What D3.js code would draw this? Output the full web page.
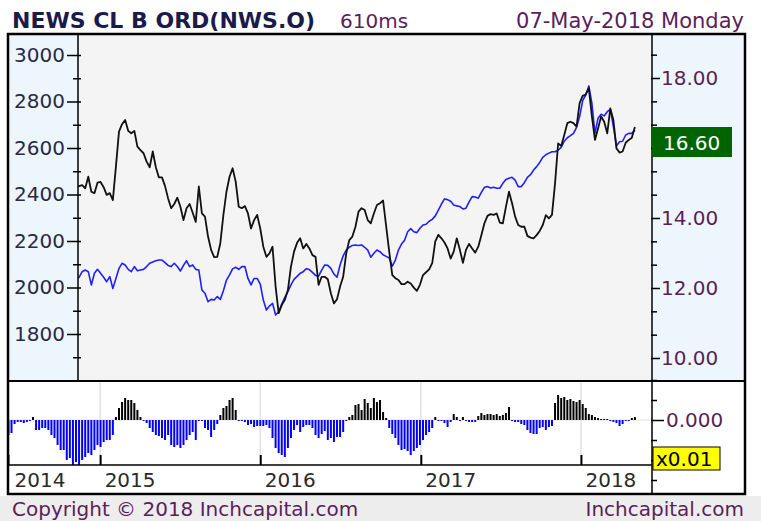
<!DOCTYPE html>
<html>
<head>
<meta charset="utf-8">
<script src="https://cdn.jsdelivr.net/npm/d3@7"></script>
<style>
  body { margin: 0; background: #fff; }
  svg { display: block; }
  text { font-family: "DejaVu Sans", Verdana, sans-serif; }
</style>
</head>
<body>
<div id="chart"></div>
<script>
// ---- data (weekly) ----
const firstWeek = new Date(2014, 5, 6);
const lineFirstWeek = 22; // lines start under the left axis panel

// oscillator histogram, one bar per week
const oscValues = [
  -15, -13, -4, -2, -2, -3, -2, -1, 3, -10, -10, -8, -8, -10, -15, -18, -25, -30, -30, -40,
  -38, -45, -42, -45, -40, -37, -33, -35, -30, -25, -27, -22, -20, -20, -15, 3, 12, 18, 22, 20,
  20, 17, 10, 3, -1, -3, -8, -12, -15, -16, -18, -20, -15,
  -25, -27, -25, -28, -25, -20, -15, -12, -20, -1, -1, -8, -10, -17, -10, -4, 5, 12, 14, 20,
  22, 10, -1, -1, -2, -5, -4, -7, -6, -6, -6, -5, -8, -18, -28, -33, -35, -37, -28, -18,
  -10, -5, -12, -7, -5, -5, -8, -15, -18, -14, -11, -20,
  -18, -22, -17, -17, -12, -1, 3, 5, 15, 16, 10, 21, 17, 12, 22, 18, 20, 8, 2, -8,
  -14, -18, -25, -30, -29, -31, -35, -31, -28, -25, -20, -15, -12, -8, 3, -1, -1, -3, -7, -2,
  6, 3, -1, 3, -1, -2, -2, -2, 4, 7, 5, 6,
  6, 5, 6, 4, 5, 7, 13, -1, -2, -2, -4, -5, -10, -13, -14, -14, -8, -7, -10, -7,
  -6, 17, 25, 22, 23, 20, 21, 19, 18, 20, 16, 12, 6, 5, 3, 2, 1, 1, 1, -1,
  -2, -3, -6, -4, -1, -1, 2, 3
];

// NWS.O close (right axis), black line
const priceValues = [
  14.90, 14.91, 14.94, 14.85, 15.18, 14.75, 14.71, 15.01, 15.03, 14.88, 14.66, 14.71, 14.51,
  15.47, 16.47, 16.68, 16.80, 16.49, 16.42, 16.49, 16.04, 15.94, 15.85, 15.61, 15.45, 15.90, 15.45, 15.16, 15.16, 14.91, 14.56, 14.28, 14.40,
  14.58, 14.32, 13.94, 14.28, 14.40, 14.15, 13.89, 14.90, 14.13, 14.04, 13.47, 13.09, 12.88, 12.89, 13.28, 14.09, 14.75, 15.18, 15.42, 15.04,
  14.32, 14.28, 14.34, 14.13, 13.70, 13.94, 14.09, 13.70, 13.18, 12.89, 12.99, 13.18, 12.04, 11.28, 11.51, 11.66, 11.94, 12.61, 13.04, 13.29,
  13.42, 13.13, 13.26, 13.13, 12.94, 12.89, 12.09, 12.32, 12.32, 12.25, 11.85, 11.56, 11.68, 12.04, 12.32, 12.99, 13.37, 13.47, 13.75, 14.18,
  14.28, 14.23, 13.94, 13.85, 14.13, 14.37, 14.42, 14.50, 13.77, 13.04, 12.37, 12.28, 12.23, 12.11, 12.11, 12.18, 12.13, 12.01, 11.92, 12.09,
  12.37, 12.45, 12.53, 12.71, 13.33, 13.52, 13.42, 13.30, 13.13, 12.84, 13.04, 13.42, 13.09, 12.72, 13.09, 13.26, 13.13, 13.01, 13.18, 13.51,
  13.85, 14.06, 14.11, 14.09, 14.13, 13.87, 13.85, 14.32, 14.75, 14.42, 14.04, 13.80, 13.75, 13.75, 13.49, 13.44, 13.42, 13.51, 13.63, 13.80,
  14.08, 13.99, 14.09, 14.99, 16.13, 16.06, 16.37, 16.71, 16.75, 16.71, 16.61, 17.28, 17.49, 17.53, 17.71, 16.90, 16.23, 16.56, 16.90, 16.75,
  16.42, 17.13, 16.80, 15.99, 15.87, 15.90, 16.15, 16.23, 16.29, 16.60
];

// comparison index (left axis), blue line
const indexValues = [
  2035, 2044, 2068, 2075, 2068, 2011, 2061, 2078, 2061, 2044, 2025, 2047, 1996,
  2039, 2082, 2104, 2097, 2078, 2068, 2090, 2072, 2075, 2078, 2090, 2104, 2110, 2115, 2118, 2118, 2107, 2095, 2090, 2104,
  2090, 2071, 2095, 2115, 2090, 2097, 2078, 2075, 1989, 1975, 1939, 1949, 1946, 1961, 1949, 1986, 2032, 2054, 2080, 2087,
  2078, 2090, 2090, 2039, 2011, 2039, 2039, 2015, 1946, 1903, 1920, 1932, 1882, 1896, 1929, 1958, 1982, 2011, 2035, 2048,
  2061, 2068, 2081, 2077, 2065, 2052, 2049, 2075, 2097, 2095, 2082, 2058, 2044, 2097, 2136, 2161, 2173, 2181, 2183, 2181,
  2183, 2173, 2161, 2130, 2147, 2161, 2154, 2141, 2134, 2127, 2092, 2118, 2161, 2187, 2203, 2240, 2253, 2240, 2236, 2255,
  2269, 2272, 2285, 2293, 2308, 2333, 2359, 2381, 2378, 2371, 2355, 2351, 2348, 2338, 2341, 2368, 2391, 2389, 2384, 2409,
  2431, 2434, 2428, 2431, 2427, 2427, 2448, 2465, 2470, 2474, 2462, 2434, 2434, 2451, 2474, 2485, 2505, 2520, 2538, 2560,
  2571, 2578, 2584, 2584, 2591, 2603, 2629, 2644, 2653, 2663, 2689, 2735, 2804, 2828, 2867, 2792, 2663, 2728, 2745, 2738,
  2756, 2766, 2692, 2609, 2627, 2629, 2656, 2663, 2663, 2677
];

const leftTicks = d3.range(1700, 3001, 100);
const leftLabels = [1800, 2000, 2200, 2400, 2600, 2800, 3000];
const rightTicks = d3.range(0, 14).map(i => 10 + i * 2 / 3);
const rightLabels = [10, 12, 14, 18]; // 16 sits under the last-price box
const oscTicks = [-60, -40, -20, 0, 20, 40];
const yearTicks = [new Date(2014, 5, 5), new Date(2015, 0, 1), new Date(2016, 0, 1), new Date(2017, 0, 1), new Date(2018, 0, 1)];
const lastPrice = 16.60;

const weekDate = i => d3.timeDay.offset(firstWeek, 7 * i);

// ---- layout ----
const w = 761;
const h = 521;
const fLeft = 8, fRight = 745, fTop = 34, fBottom = 494;
const plotL = 78, plotR = 652, upperB = 381, lowerB = 465;
const font = '"DejaVu Sans", Verdana, sans-serif';
const purple = '#5a1f5a';

const svg = d3.select('#chart').
append('svg').
attr('width', w).
attr('height', h);

const x = d3.scaleTime().
domain([new Date(2014, 5, 5), new Date(2018, 5, 12)]).
range([fLeft, plotR]);

const yIndex = d3.scaleLinear().domain([1700, 3000]).range([357.25, 55]);
const yPrice = d3.scaleLinear().domain([10, 18]).range([358, 78]);
const yOsc = d3.scaleLinear().domain([-45, 40]).range([lowerB, 380]);

// backgrounds
svg.append('rect').attr('x', 0).attr('y', 496).attr('width', w).attr('height', h - 496).attr('fill', '#ededed');
svg.append('rect').attr('x', fLeft).attr('y', fTop).attr('width', plotL - fLeft).attr('height', upperB - fTop).attr('fill', '#eef6fd');
svg.append('rect').attr('x', plotL).attr('y', fTop).attr('width', plotR - plotL).attr('height', upperB - fTop).attr('fill', '#f4f4f4');
svg.append('rect').attr('x', plotR).attr('y', fTop).attr('width', fRight - plotR).attr('height', upperB - fTop).attr('fill', '#eef6fd');
svg.append('rect').attr('x', fLeft).attr('y', upperB).attr('width', fRight - fLeft).attr('height', fBottom - upperB).attr('fill', '#fff');

// lower panel grid
svg.append('g').
selectAll('line').
data(yearTicks.slice(1)).
enter().
append('line').
attr('x1', d => x(d)).attr('x2', d => x(d)).
attr('y1', upperB).attr('y2', lowerB).
attr('stroke', '#e2e2e2').attr('stroke-width', 1.5);

svg.append('line').
attr('x1', fLeft).attr('x2', plotR).
attr('y1', yOsc(0)).attr('y2', yOsc(0)).
attr('stroke', '#e2e2e2').attr('stroke-width', 1);

// histogram
svg.append('g').
selectAll('rect').
data(oscValues).
enter().
append('rect').
attr('x', (d, i) => x(weekDate(i)) - 1).
attr('y', d => Math.min(yOsc(d), yOsc(0))).
attr('width', 2).
attr('height', d => Math.max(1, Math.abs(yOsc(d) - yOsc(0)))).
attr('fill', d => d > 0 ? '#000' : '#0000ff');

// lines
svg.append('clipPath').attr('id', 'clip').
append('rect').attr('x', plotL).attr('y', fTop).attr('width', plotR - plotL).attr('height', upperB - fTop);

const lineIndex = d3.line().
x((d, i) => x(weekDate(i + lineFirstWeek))).
y(d => yIndex(d));

const linePrice = d3.line().
x((d, i) => x(weekDate(i + lineFirstWeek))).
y(d => yPrice(d));

svg.append('path').
datum(indexValues).
attr('clip-path', 'url(#clip)').
attr('d', lineIndex).
attr('fill', 'none').
attr('stroke', '#1f1fff').
attr('stroke-width', 1.6).
attr('stroke-linejoin', 'round');

svg.append('path').
datum(priceValues).
attr('clip-path', 'url(#clip)').
attr('d', linePrice).
attr('fill', 'none').
attr('stroke', '#111').
attr('stroke-width', 1.8).
attr('stroke-linejoin', 'round');

// left axis
const leftAxis = d3.axisLeft(yIndex).
tickValues(leftTicks).
tickSize(0).
tickPadding(13).
tickFormat(d => leftLabels.includes(d) ? d : '');

svg.append('g').
attr('transform', 'translate(' + plotL + ',0)').
call(leftAxis).
call(g => g.select('.domain').remove()).
call(g => g.selectAll('.tick line').
attr('x1', 3).
attr('x2', d => leftLabels.includes(d) ? -11 : -5).
attr('stroke', '#000').attr('stroke-width', 1.5)).
call(g => g.selectAll('text').attr('fill', '#2a2a48')).
attr('font-size', 20).attr('font-family', font);

// right axis
const isEvenInt = d => Math.abs(d - Math.round(d)) < 1e-6 && Math.round(d) % 2 === 0;
const rightAxis = d3.axisRight(yPrice).
tickValues(rightTicks).
tickSize(0).
tickPadding(9).
tickFormat(d => isEvenInt(d) && rightLabels.includes(Math.round(d)) ? d3.format('.2f')(d) : '');

svg.append('g').
attr('transform', 'translate(' + plotR + ',0)').
call(rightAxis).
call(g => g.select('.domain').remove()).
call(g => g.selectAll('.tick line').
attr('x1', -1).
attr('x2', d => isEvenInt(d) ? 8 : 5).
attr('stroke', '#000').attr('stroke-width', 1.5)).
call(g => g.selectAll('text').attr('fill', purple)).
attr('font-size', 20).attr('font-family', font);

// oscillator axis
const oscAxis = d3.axisRight(yOsc).
tickValues(oscTicks).
tickSize(0).
tickPadding(14).
tickFormat(d => d === 0 ? '0.000' : '');

svg.append('g').
attr('transform', 'translate(' + plotR + ',0)').
call(oscAxis).
call(g => g.select('.domain').remove()).
call(g => g.selectAll('.tick line').
attr('x1', -1).
attr('x2', d => d === 0 ? 12 : 5).
attr('stroke', '#000').attr('stroke-width', 1.5)).
call(g => g.selectAll('text').attr('fill', purple)).
attr('font-size', 20).attr('font-family', font);

// date axis
const dateAxis = d3.axisBottom(x).
tickValues(yearTicks).
tickSizeInner(-10).
tickSizeOuter(0).
tickPadding(8).
tickFormat(d3.timeFormat('%Y'));

svg.append('g').
attr('transform', 'translate(0,' + lowerB + ')').
call(dateAxis).
call(g => g.select('.domain').remove()).
call(g => g.selectAll('.tick line').attr('stroke', '#000').attr('stroke-width', 2)).
call(g => g.selectAll('text').
attr('text-anchor', 'start').
attr('dx', (d, i) => i === 0 ? 6 : 4).
attr('fill', '#2a2a2a')).
attr('font-size', 20).attr('font-family', font);

// frame
const frame = svg.append('g').attr('stroke', '#000').attr('fill', 'none');
frame.append('line').attr('x1', fLeft).attr('x2', fRight).attr('y1', upperB).attr('y2', upperB).attr('stroke-width', 2);
frame.append('line').attr('x1', fLeft).attr('x2', plotR).attr('y1', lowerB).attr('y2', lowerB).attr('stroke-width', 1.5);
frame.append('line').attr('x1', plotL).attr('x2', plotL).attr('y1', fTop).attr('y2', upperB).attr('stroke-width', 1.5);
frame.append('line').attr('x1', plotR).attr('x2', plotR).attr('y1', fTop).attr('y2', fBottom).attr('stroke-width', 1.5);
frame.append('rect').attr('x', fLeft).attr('y', fTop).attr('width', fRight - fLeft).attr('height', fBottom - fTop).attr('stroke-width', 2.5);

// last price box
const boxY = yPrice(lastPrice);
svg.append('rect').attr('x', plotR).attr('y', boxY).attr('width', 80).attr('height', 30).attr('fill', '#006400');
svg.append('text').
attr('x', plotR + 11).attr('y', boxY + 23).
attr('font-size', 20).attr('font-family', font).attr('fill', '#fff').
text(d3.format('.2f')(lastPrice));

// multiplier box
svg.append('rect').attr('x', 653).attr('y', 447).attr('width', 67).attr('height', 23).
attr('fill', '#ffff00').attr('stroke', '#000').attr('stroke-width', 1);
svg.append('text').
attr('x', 656).attr('y', 466).
attr('font-size', 20).attr('font-family', font).attr('fill', '#000').
text('x0.01');

// header
svg.append('text').
attr('x', 12).attr('y', 28).
attr('font-size', 22).attr('font-weight', 'bold').attr('font-family', font).attr('fill', '#1b1b4b').
text('NEWS CL B ORD(NWS.O)');
svg.append('text').
attr('x', 340).attr('y', 28).
attr('font-size', 20).attr('font-family', font).attr('fill', purple).
text('610ms');
svg.append('text').
attr('x', 744).attr('y', 28).attr('text-anchor', 'end').
attr('font-size', 21).attr('font-family', font).attr('fill', purple).
text('07-May-2018 Monday');

// footer
svg.append('text').
attr('x', 12).attr('y', 516).
attr('font-size', 20).attr('font-family', font).attr('fill', purple).
text('Copyright © 2018 Inchcapital.com');
svg.append('text').
attr('x', 744).attr('y', 516).attr('text-anchor', 'end').
attr('font-size', 20).attr('font-family', font).attr('fill', purple).
text('Inchcapital.com');
</script>
</body>
</html>
